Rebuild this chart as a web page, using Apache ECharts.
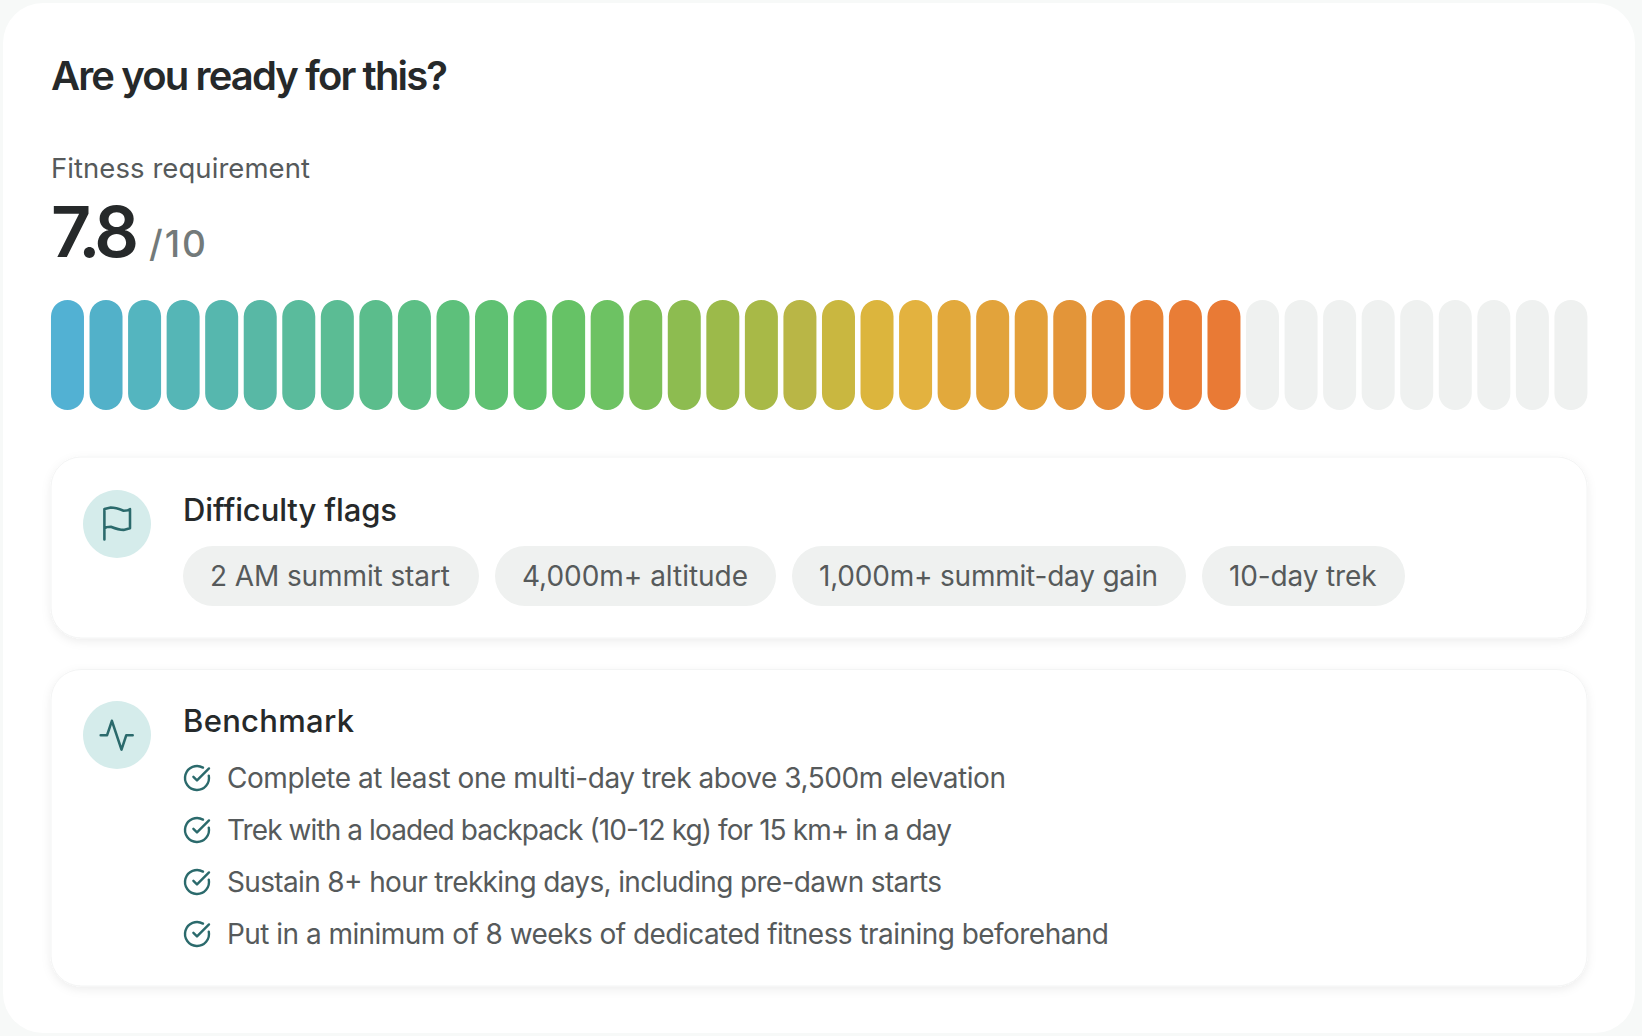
<!DOCTYPE html>
<html>
<head>
<meta charset="utf-8">
<title>Are you ready for this?</title>
<style>
  html, body { margin: 0; padding: 0; background: #f7f9f8; }
  #chart { width: 1642px; height: 1036px; }
</style>
<script src="https://cdn.jsdelivr.net/npm/echarts@6/dist/echarts.min.js"></script>
</head>
<body>
<div id="chart"></div>
<script>
const chartTitle = 'Are you ready for this?'
const scoreLabel = 'Fitness requirement'
const scoreValue = '7.8'
const scoreMax = '/10'

const segments = [
  1, 2, 3, 4, 5, 6, 7, 8, 9, 10, 11, 12, 13, 14, 15, 16, 17, 18, 19, 20,
  21, 22, 23, 24, 25, 26, 27, 28, 29, 30, 31, 32, 33, 34, 35, 36, 37, 38, 39, 40,
]
const segmentValues = [
  1, 1, 1, 1, 1, 1, 1, 1, 1, 1, 1, 1, 1, 1, 1, 1, 1, 1, 1, 1,
  1, 1, 1, 1, 1, 1, 1, 1, 1, 1, 1, 1, 1, 1, 1, 1, 1, 1, 1, 1,
]
const segmentColors = [
  '#52b1d3', '#52b1c9', '#54b5bf', '#55b6b6', '#56b7ae', '#58b8a5', '#5abb9c', '#5bbc94',
  '#5bbd8c', '#5cbf85', '#5dc07b', '#5fc172', '#60c26c', '#66c266', '#6dc263', '#7dbf58',
  '#8dbc50', '#9cba4a', '#a8b947', '#b9b646', '#c9b740', '#dcb53d', '#e3b23f', '#e2a93c',
  '#e2a33b', '#e3a03a', '#e39539', '#e68b38', '#e88436', '#e97d36', '#e97a35',
  '#eff1f0', '#eff1f0', '#eff1f0', '#eff1f0', '#eff1f0', '#eff1f0', '#eff1f0', '#eff1f0', '#eff1f0',
]

const flagsTitle = 'Difficulty flags'
const difficultyFlags = ['2 AM summit start', '4,000m+ altitude', '1,000m+ summit-day gain', '10-day trek']
const benchmarkTitle = 'Benchmark'
const benchmarks = [
  'Complete at least one multi-day trek above 3,500m elevation',
  'Trek with a loaded backpack (10-12 kg) for 15 km+ in a day',
  'Sustain 8+ hour trekking days, including pre-dawn starts',
  'Put in a minimum of 8 weeks of dedicated fitness training beforehand',
]

const pillBoxes = [[183, 296, 240], [495, 281, 226], [792, 394, 339], [1202, 203, 147.5]]
const benchmarkRows = [778, 830, 882, 934]
const benchmarkWidths = [779, 725, 715, 882]

const FONT = 'Inter'
const DARK = '#26292a'
const GREY = '#565a5b'
const TEAL = '#2b6a6c'

echarts.graphic.registerShape('flagIcon', echarts.graphic.extendPath('M4 15s1-1 4-1 5 2 8 2 4-1 4-1V3s-1 1-4 1-5-2-8-2-4 1-4 1zM4 22v-7', {}))
echarts.graphic.registerShape('pulseIcon', echarts.graphic.extendPath('M22 12h-4l-3 9L9 3l-3 9H2', {}))
echarts.graphic.registerShape('checkIcon', echarts.graphic.extendPath('M21.801 10A10 10 0 1 1 17 3.335M9 11l3 3L22 4', {}))

// inter runs wider than the font in the picture, so every string gets its measured width
const textWidths = {}

const text = (str, x, baseline, size, weight, fill, width) => {
  textWidths[str] = width
  return {
    type: 'text',
    x,
    y: baseline - size * 0.36,
    silent: true,
    style: {
      text: str, fill, fontFamily: FONT, fontSize: size, fontWeight: weight, align: 'left', verticalAlign: 'middle',
    },
  }
}

const icon = (type, x, y, scale, lineWidth) => ({
  type,
  x,
  y,
  scaleX: scale,
  scaleY: scale,
  silent: true,
  style: {
    fill: 'none', stroke: TEAL, lineWidth, lineCap: 'round', lineJoin: 'round',
  },
})

const innerCard = (y, height) => ({
  type: 'rect',
  silent: true,
  shape: {
    x: 51, y, width: 1536, height, r: 30,
  },
  style: {
    fill: '#fff', stroke: '#f3f4f4', lineWidth: 1, shadowBlur: 10, shadowOffsetY: 3, shadowColor: 'rgba(30,40,40,0.07)',
  },
})

const iconDisc = (cy) => ({
  type: 'circle',
  silent: true,
  shape: { cx: 117, cy, r: 34 },
  style: { fill: '#d5eceb' },
})

const elements = [
  {
    type: 'rect',
    silent: true,
    z: -10,
    shape: {
      x: 3, y: 3, width: 1632, height: 1030, r: 40,
    },
    style: { fill: '#fff' },
  },
  text(chartTitle, 51, 90, 40, 600, DARK, 397),
  text(scoreLabel, 51, 178, 27.5, 400, GREY, 259),
  text(scoreValue, 51, 257, 70, 600, DARK, 88),
  text(scoreMax, 149, 257, 37, 500, '#737a7a', 57),

  innerCard(457, 181),
  iconDisc(524),
  icon('flagIcon', 98, 504.3, 1.6, 1.6),
  text(flagsTitle, 183, 521, 31, 500, DARK, 214),

  innerCard(669.5, 316.5),
  iconDisc(735),
  icon('pulseIcon', 97.5, 716, 1.6, 1.6),
  text(benchmarkTitle, 183, 731.7, 31, 500, DARK, 171),
]

difficultyFlags.forEach((flag, i) => {
  const [x, width, labelWidth] = pillBoxes[i]
  elements.push({
    type: 'rect',
    silent: true,
    shape: {
      x, y: 546, width, height: 60, r: 30,
    },
    style: { fill: '#eff1f0' },
  })
  elements.push(text(flag, x + 27, 586, 28, 400, GREY, labelWidth))
})

benchmarks.forEach((row, i) => {
  const cy = benchmarkRows[i]
  elements.push(icon('checkIcon', 182.6, cy - 14.4, 1.2, 2))
  elements.push(text(row, 227, cy + 9.7, 28, 400, GREY, benchmarkWidths[i]))
})

const chart = echarts.init(document.getElementById('chart'), null, { renderer: 'svg' })
chart.setOption({
  animation: false,
  backgroundColor: '#f7f9f8',
  tooltip: { show: false },
  grid: {
    left: 48.2, top: 300, width: 1542, height: 110,
  },
  xAxis: { type: 'category', data: segments, show: false },
  yAxis: {
    type: 'value', min: 0, max: 1, show: false,
  },
  graphic: { elements },
  series: [
    {
      type: 'bar',
      barWidth: 33,
      silent: true,
      data: segmentValues.map((value, i) => ({
        value,
        itemStyle: { color: segmentColors[i], borderRadius: 16.5 },
      })),
    },
  ],
})

const fitTexts = () => {
  document.querySelectorAll('#chart svg text').forEach((el) => {
    const width = textWidths[el.textContent]
    if (width) {
      el.setAttribute('textLength', width)
      el.setAttribute('lengthAdjust', 'spacing')
    }
  })
}
fitTexts()
chart.on('finished', fitTexts)
</script>
</body>
</html>
